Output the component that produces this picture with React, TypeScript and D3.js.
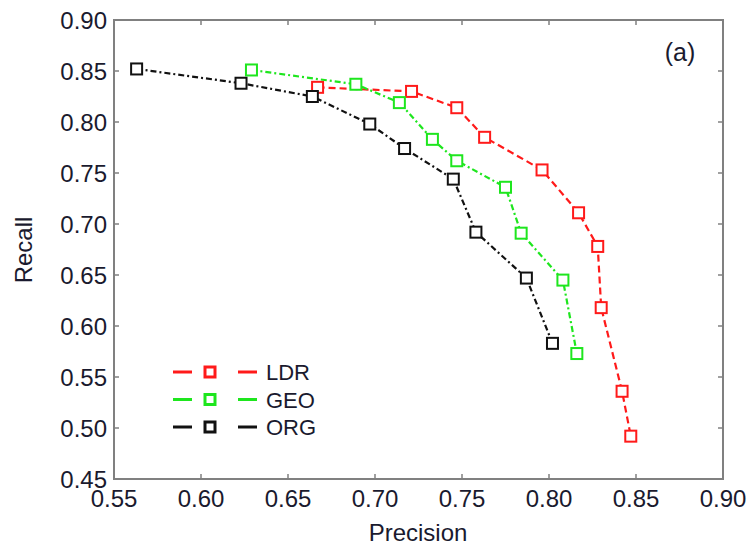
import React from "react";
import * as d3 from "d3";

// precision / recall pairs
const ldrPrecision = [0.667, 0.721, 0.747, 0.763, 0.796, 0.817, 0.828, 0.83, 0.842, 0.847];
const ldrRecall = [0.834, 0.83, 0.814, 0.785, 0.753, 0.711, 0.678, 0.618, 0.536, 0.492];
const geoPrecision = [0.629, 0.689, 0.714, 0.733, 0.747, 0.775, 0.784, 0.808, 0.816];
const geoRecall = [0.851, 0.837, 0.819, 0.783, 0.762, 0.736, 0.691, 0.645, 0.573];
const orgPrecision = [0.563, 0.623, 0.664, 0.697, 0.717, 0.745, 0.758, 0.787, 0.802];
const orgRecall = [0.852, 0.838, 0.825, 0.798, 0.774, 0.744, 0.692, 0.647, 0.583];

const xTicks = [0.55, 0.6, 0.65, 0.7, 0.75, 0.8, 0.85, 0.9];
const yTicks = [0.45, 0.5, 0.55, 0.6, 0.65, 0.7, 0.75, 0.8, 0.85, 0.9];

const series = [
  { name: "LDR", color: "#ff1a1a", dash: "7,4", xs: ldrPrecision, ys: ldrRecall },
  { name: "GEO", color: "#1ee61e", dash: "6,3,2,3", xs: geoPrecision, ys: geoRecall },
  { name: "ORG", color: "#111111", dash: "6,3,2,3", xs: orgPrecision, ys: orgRecall },
];

const W = 749;
const H = 549;
const left = 114, right = 723, top = 20, bottom = 479;
const font = "Liberation Sans, Arial, sans-serif";
const textColor = "#1a1a2e";

export default function App() {
  const x = d3.scaleLinear().domain([0.55, 0.9]).range([left, right]);
  const y = d3.scaleLinear().domain([0.45, 0.9]).range([bottom, top]);
  const line = d3.line<[number, number]>().x((d) => x(d[0])).y((d) => y(d[1]));
  const ms = 11;

  return (
    <svg width={W} height={H} style={{ position: "absolute", left: 0, top: 0, background: "#fff" }}>
      {/* frame */}
      <rect x={left} y={top} width={right - left} height={bottom - top} fill="none" stroke="#808080" strokeWidth={2} />
      {xTicks.map((t) => (
        <g key={"x" + t}>
          <line x1={x(t)} x2={x(t)} y1={bottom} y2={bottom - 5} stroke="#808080" strokeWidth={1.5} />
          <line x1={x(t)} x2={x(t)} y1={top} y2={top + 5} stroke="#808080" strokeWidth={1.5} />
          <text x={x(t)} y={507} textAnchor="middle" fontFamily={font} fontSize={24} fill={textColor}>
            {t.toFixed(2)}
          </text>
        </g>
      ))}
      {yTicks.map((t) => (
        <g key={"y" + t}>
          <line x1={left} x2={left + 5} y1={y(t)} y2={y(t)} stroke="#808080" strokeWidth={1.5} />
          <line x1={right} x2={right - 5} y1={y(t)} y2={y(t)} stroke="#808080" strokeWidth={1.5} />
          <text x={107} y={y(t) + 8.5} textAnchor="end" fontFamily={font} fontSize={24} fill={textColor}>
            {t.toFixed(2)}
          </text>
        </g>
      ))}
      <text x={418} y={541} textAnchor="middle" fontFamily={font} fontSize={24} fill={textColor}>
        Precision
      </text>
      <text transform="translate(32,250) rotate(-90)" textAnchor="middle" fontFamily={font} fontSize={24} fill={textColor}>
        Recall
      </text>
      <text x={680} y={61} textAnchor="middle" fontFamily={font} fontSize={25} fill={textColor}>
        (a)
      </text>

      {series.map((s) => {
        const pts = s.xs.map((v, i) => [v, s.ys[i]] as [number, number]);
        return (
          <g key={s.name}>
            <path d={line(pts) ?? ""} fill="none" stroke={s.color} strokeWidth={2.2} strokeDasharray={s.dash} />
            {pts.map((p, i) => (
              <rect
                key={i}
                x={x(p[0]) - ms / 2}
                y={y(p[1]) - ms / 2}
                width={ms}
                height={ms}
                fill="#fff"
                stroke={s.color}
                strokeWidth={2}
              />
            ))}
          </g>
        );
      })}

      {/* legend */}
      {series.map((s, i) => {
        const ly = 372 + i * 27.5;
        return (
          <g key={"lg" + s.name}>
            <line x1={173} x2={192} y1={ly} y2={ly} stroke={s.color} strokeWidth={3} />
            <line x1={238} x2={257} y1={ly} y2={ly} stroke={s.color} strokeWidth={3} />
            <rect x={210 - 5} y={ly - 5} width={10} height={10} fill="#fff" stroke={s.color} strokeWidth={3} />
            <text x={266} y={ly + 8} fontFamily={font} fontSize={22} fill={textColor}>
              {s.name}
            </text>
          </g>
        );
      })}
    </svg>
  );
}
